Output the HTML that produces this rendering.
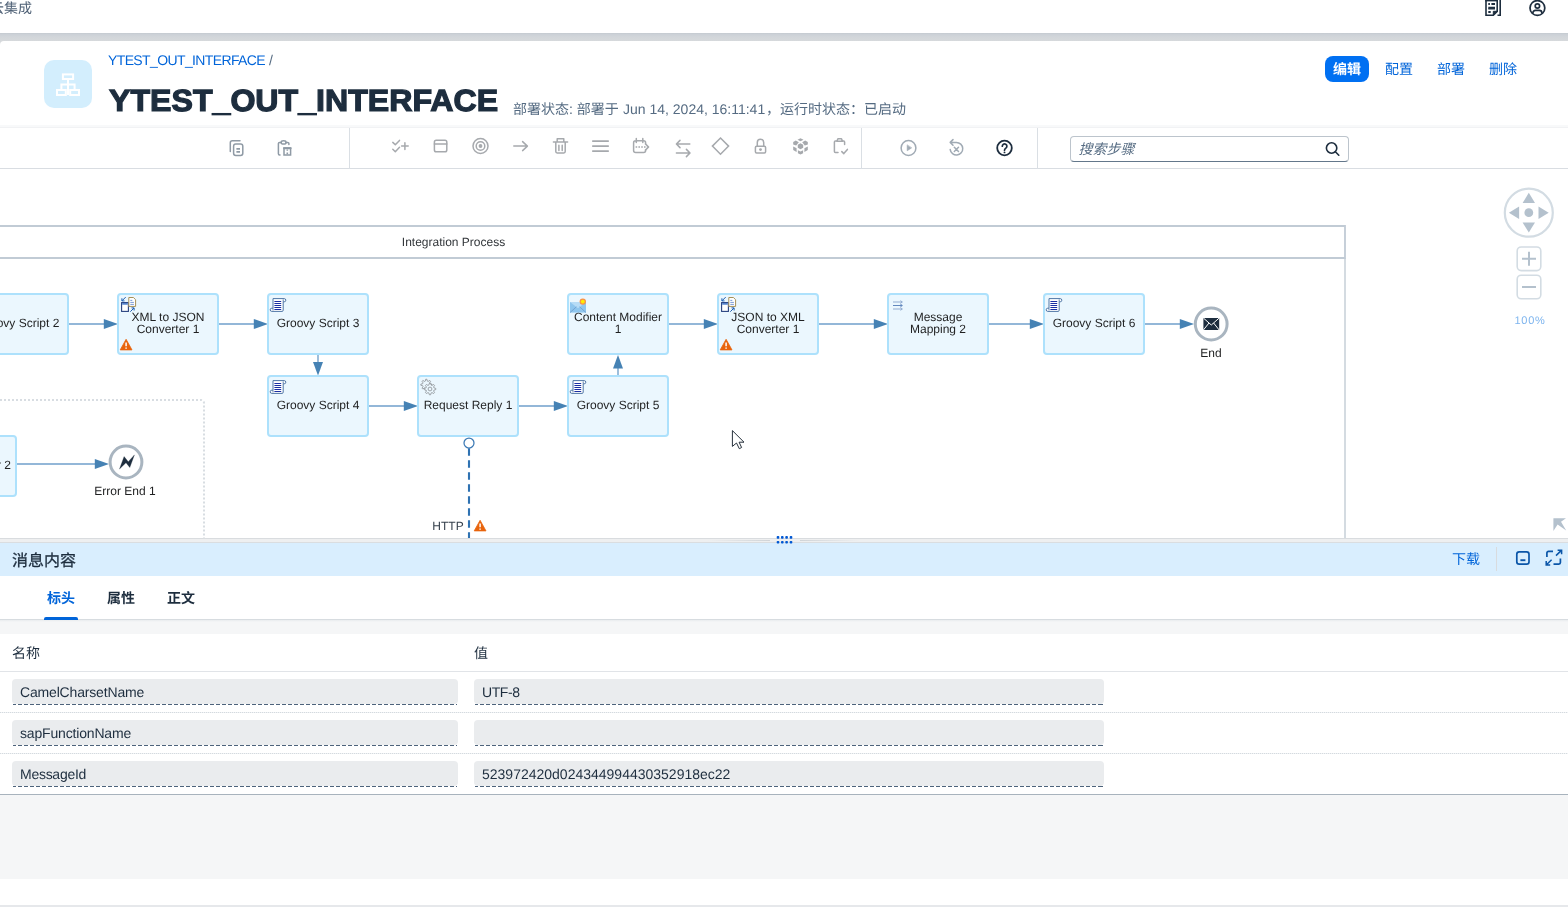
<!DOCTYPE html>
<html lang="zh-CN">
<head>
<meta charset="utf-8">
<title>YTEST_OUT_INTERFACE</title>
<style>
*{box-sizing:border-box;margin:0;padding:0}
html,body{width:1568px;height:907px;overflow:hidden;background:#fff}
body{position:relative;will-change:transform;text-rendering:geometricPrecision;font-family:"Liberation Sans","Noto Sans CJK SC",sans-serif;color:#1d2d3e;font-size:14px}
.abs{position:absolute}
.t{position:absolute;white-space:nowrap;line-height:1}
#shell{left:0;top:0;width:1568px;height:33px;background:#fff;overflow:hidden}
#band{left:0;top:33px;width:1568px;height:12px;background:linear-gradient(#c4cad0 0,#ccd1d7 1.5px,#d2d6da 4px,#d6d9dc 8px)}
#hdr{left:0;top:41px;width:1568px;height:86px;background:#fff;border-top-left-radius:4px}
#tb{left:0;top:127px;width:1568px;height:42px;background:#fff;border-top:1px solid #f1f2f4;border-bottom:1px solid #d9dde2;box-shadow:0 1px 1px #f0f2f4,0 -2px 0 #f8f9fa}
#canvas{left:0;top:169px;width:1568px;height:369px;background:#fff;overflow:hidden}
#split{z-index:3;left:0;top:538px;width:1568px;height:5px;background:#eeeff0;border-top:1px solid #d9dcdf;border-bottom:1px solid #dadde0}
#phdr{left:0;top:543px;width:1568px;height:33px;background:#d9eefe}
#tabs{left:0;top:576px;width:1568px;height:44px;background:#fff;border-bottom:1px solid #d7dce0}
#gap{left:0;top:620px;width:1568px;height:14.5px;background:linear-gradient(#e9ecee,#f5f6f7 2px)}
#tbl{left:0;top:634px;width:1568px;height:161px;background:#fff;border-bottom:1px solid #a8b3bd}
#foot{left:0;top:795px;width:1568px;height:84px;background:#f5f6f7}
#foot2{left:0;top:879px;width:1568px;height:28px;background:#fff;border-bottom:2px solid #e6e8eb}
.lnk{color:#0064d9}
.cj{overflow:visible;font-family:"Liberation Sans","Noto Sans CJK SC",sans-serif}
.lb{position:absolute;font-size:12px;line-height:12px;text-align:center;color:#1f2021;white-space:nowrap}
.inp{position:absolute;height:24.5px;background:#eaecee;border-radius:4px;font-size:14px;line-height:26px;padding-left:8px;color:#1d2d3e;white-space:nowrap;letter-spacing:-.17px}
.inp::after{content:"";position:absolute;left:1px;right:1px;bottom:-1.2px;height:1.1px;background:repeating-linear-gradient(90deg,#4d637b 0 4px,transparent 4px 6px);background-position:-1px 0}
.rowl{position:absolute;left:0;width:1568px;height:1px;background:repeating-linear-gradient(90deg,#d4dadf 0 1px,#f0f2f4 1px 2px)}
</style>
</head>
<body>

<div id="shell" class="abs">
<span class="t cj" style="left:-10px;top:1px;font-size:14px;width:42.0px;height:14px;color:#4f6176">云集成</span>
<svg class="abs" style="left:1485px;top:0" width="17" height="17" viewBox="0 0 17 17" fill="none" stroke="#1d2d3e"><path d="M1 -1V15.2H8.3L12.2 11.3V-1" stroke-width="1.6"/><path d="M8.3 15.2V11.3H12.2Z" fill="#1d2d3e" stroke-width="1"/><path d="M12.5 15.2H15.2V-1" stroke-width="1.6"/><path d="M.2 .4H13" stroke-width="2"/><path d="M3.3 4h1.6M6.4 4h3.6M3.3 7.7h6.7M3.3 12h2.4" stroke-width="1.9"/><path d="M3.3 8.8h6.7" stroke-width="1.4"/></svg>
<svg class="abs" style="left:1529px;top:-1px" width="18" height="18" viewBox="0 0 18 18" fill="none" stroke="#1d2d3e" stroke-width="1.7"><circle cx="8.4" cy="9" r="7.4"/><circle cx="8.4" cy="7" r="2.2"/><path d="M3.9 14.6v-.6a2.6 2.6 0 0 1 2.6-2.6h3.8a2.6 2.6 0 0 1 2.6 2.6v.6"/></svg>
</div>
<div id="band" class="abs"></div>
<div id="hdr" class="abs">
<div class="abs" style="left:44px;top:19px;width:48px;height:48px;border-radius:10px;background:#d3eefd"></div>
<svg class="abs" style="left:56px;top:31px" width="24" height="26" viewBox="0 0 24 26" fill="none" stroke="#fff" stroke-width="2"><rect x="6.9" y="2.4" width="10.2" height="4.6"/><rect x="1" y="18" width="8.8" height="5"/><rect x="14.2" y="18" width="8.8" height="5"/><path d="M12 7V23M5.4 18V12.6H18.6V18"/></svg>
<span class="t lnk" style="left:108px;top:12px;font-size:14px;letter-spacing:-.62px">YTEST_OUT_INTERFACE</span>
<span class="t" style="left:269px;top:12px;font-size:14px;color:#556b82">/</span>
<h1 class="t" style="left:108.5px;top:44.6px;font-size:30.6px;font-weight:700;color:#1d2d3e;-webkit-text-stroke:1.2px #1d2d3e;transform:scaleX(1.05);transform-origin:0 0">YTEST_OUT_INTERFACE</h1>
<span class="t cj" style="left:513px;top:61px;font-size:14px;width:56.0px;height:14px;color:#556b82">部署状态</span><span class="t" style="left:569px;top:61px;font-size:14px;color:#556b82">:</span><span class="t cj" style="left:576.8px;top:61px;font-size:14px;width:42.0px;height:14px;color:#556b82">部署于</span>
<span class="t" style="left:623px;top:61px;font-size:14px;color:#556b82">Jun 14, 2024, 16:11:41</span>
<span class="t cj" style="left:766px;top:61px;font-size:14px;width:140.0px;height:14px;color:#556b82">，运行时状态：已启动</span>
<div class="abs" style="left:1325px;top:15px;width:44px;height:26px;border-radius:8px;background:#0070f2"></div><span class="t cj" style="left:1333px;top:21px;font-size:14px;width:28.0px;height:14px;color:#fff;font-weight:700">编辑</span>
<span class="t cj" style="left:1385px;top:21px;font-size:14px;width:28.0px;height:14px;color:#0064d9">配置</span>
<span class="t cj" style="left:1437px;top:21px;font-size:14px;width:28.0px;height:14px;color:#0064d9">部署</span>
<span class="t cj" style="left:1489px;top:21px;font-size:14px;width:28.0px;height:14px;color:#0064d9">删除</span>
</div>
<div id="tb" class="abs">
<div class="abs" style="left:349px;top:0;width:1px;height:41px;background:#dadfe4"></div>
<div class="abs" style="left:861px;top:0;width:1px;height:41px;background:#dadfe4"></div>
<div class="abs" style="left:1037px;top:0;width:1px;height:41px;background:#dadfe4"></div>
<svg class="abs" style="left:0;top:-1px" width="1060" height="42" viewBox="0 127 1060 42" fill="none" stroke-linecap="round" stroke-linejoin="round">
<g stroke="#8f9aa5" stroke-width="1.5">
<path d="M230.3 151.5V142.8a2 2 0 0 1 2-2H240"/><rect x="233.6" y="144" width="9.2" height="11.4" rx="2.2"/><path d="M236.4 148.8h3.6M236.4 151.9h3.6" stroke-width="1.7" stroke-linecap="butt"/>
<path d="M280 155H279.6a1.2 1.2 0 0 1-1.2-1.2V143.6a1.2 1.2 0 0 1 1.2-1.2H281.2M286 142.4h1.7a1.2 1.2 0 0 1 1.2 1.2V144.6"/><ellipse cx="283.6" cy="142.4" rx="2.5" ry="1.7"/><rect x="284" y="148" width="6.6" height="7" stroke-linejoin="miter"/><path d="M284 148.2h6.6" stroke-width="2"/><path d="M287.3 149.4v1.4M287.3 152.6v1.6" stroke-width="1.6" stroke-linecap="butt"/>
</g>
<g stroke="#a6a9ad" stroke-width="1.5">
<path d="M392.8 142.4l2.5 2.4l4.2-4.4M392.8 149.3l2.5 2.4l4.2-4.4M401.6 146.1h6.6M404.9 142.8v6.6"/>
<rect x="434.4" y="140.2" width="12.4" height="11.6" rx="1.8"/><path d="M434.4 144h12.4"/>
<circle cx="480.5" cy="146" r="7.5"/><circle cx="480.5" cy="146" r="4.3"/><circle cx="480.5" cy="146" r="1.9" fill="#a6a9ad" stroke="none"/>
<path d="M513.8 146.1h13.4M522.6 141.6l4.8 4.5l-4.8 4.5"/>
<path d="M553.4 141.9h14.2M557.2 141.6v-2.8h6.6v2.8M555.8 142.2v9.4a1.3 1.3 0 0 0 1.3 1.3h6.8a1.3 1.3 0 0 0 1.3-1.3v-9.4M558.9 145.2v5.3M562.2 145.2v5.3"/>
<path d="M592.8 141.1h15.4M592.8 146.1h15.4M592.8 151.1h15.4" stroke-width="1.7"/>
<path d="M645.6 143.5v-.7a2 2 0 0 0-2-2h-8a2 2 0 0 0-2 2v7.6a2 2 0 0 0 2 2h8a2 2 0 0 0 2-2v-.4M636.3 138.6v3.8M642.8 138.6v3.8"/><path d="M635.6 147h12.4" stroke-dasharray="1.6 1.2" stroke-linecap="butt"/><path d="M645.4 143.9l3.2 3.1l-3.2 3.1"/>
<path d="M689.8 144h-13M680 140.4l-3.6 3.6l3.6 3.6M676.4 153h13M686.4 149.4l3.6 3.6l-3.6 3.6"/>
<path d="M720.5 138l8.1 8.1l-8.1 8.1l-8.1-8.1z" stroke-linejoin="miter"/>
<rect x="755.4" y="146.3" width="10.2" height="6.6" rx="1.2"/><path d="M757.3 146v-3.6a3.2 3.2 0 0 1 6.4 0V146"/><circle cx="760.5" cy="149.6" r="1.4" fill="#a6a9ad" stroke="none"/>
<g fill="#a6a9ad" stroke="none"><path d="M800.5 138.2l3 1.5l-3 1.5l-3-1.5z"/><path d="M793.2 142l2.6-1.4l3 1.6l-2.6 3.4l-3-1.2z"/><path d="M807.8 142l-2.6-1.4l-3 1.6l2.6 3.4l3-1.2z"/><path d="M800.5 143.3l2.7 1.5v3l-2.7 1.5l-2.7-1.5v-3z"/><path d="M793.2 146.6l3.4 1.7v3.6l-3.4-1.9z"/><path d="M807.8 146.6l-3.4 1.7v3.6l3.4-1.9z"/><path d="M797.9 150.2l2.6 1.3l2.6-1.3v3l-2.6 1.4l-2.6-1.4z"/></g>
<path d="M838 152.6h-2.6a1 1 0 0 1-1-1v-9.6a1 1 0 0 1 1-1h1.8M842 141h1.6a1 1 0 0 1 1 1v2.4"/><path d="M836.9 141.2l1-2.4h3.6l1 2.4z"/><path d="M841.8 151.6l2 2l3.6-4.2"/>
</g>
<g stroke="#a0aab4" stroke-width="1.5">
<circle cx="908.5" cy="148" r="7.4"/><path d="M907.2 145.2v5.6l4.2-2.8z" fill="#a0aab4" stroke-width=".6"/>
<path d="M950.2 149.6a6.3 6.3 0 1 0 6.2-7.2h-6M953 139.6l-2.8 2.8l2.8 2.8M954.3 147.3l4.2 4.2M958.5 147.3l-4.2 4.2"/>
</g>
<g stroke="#1d2d3e" stroke-width="1.8"><circle cx="1004.5" cy="148" r="7.3"/><path d="M1002.3 146.2a2.3 2.3 0 1 1 3.6 1.9c-.9.6-1.4 1.1-1.4 2.1" stroke-width="1.7"/><circle cx="1004.5" cy="152.4" r=".95" fill="#1d2d3e" stroke="none"/></g>
</svg>
<div class="abs" style="left:1069.5px;top:7.5px;width:279px;height:26px;border:1px solid #bcc4cc;border-bottom-color:#63778b;border-radius:4px;background:#fff"></div>
<span class="t cj" style="left:1078.5px;top:13.5px;font-size:14px;width:56.0px;height:14px;color:#556b82;font-style:italic">搜索步骤</span>
<svg class="abs" style="left:1324px;top:12px" width="18" height="18" viewBox="0 0 18 18" fill="none" stroke="#1d2d3e" stroke-width="1.6" stroke-linecap="round"><circle cx="7.6" cy="8" r="5.2"/><path d="M11.4 11.8l3.4 3.4"/></svg>
</div>
<div id="canvas" class="abs">
<svg class="abs" style="left:0;top:0" width="1568" height="369" viewBox="0 169 1568 369" fill="none">
<path d="M1345 258V560" stroke="#d0d7de" stroke-width="1.8"/><path d="M-5 226H1345V258H-5" stroke="#c1cbd5" stroke-width="1.8"/>
<path d="M-4 400H201a3 3 0 0 1 3 3V540" stroke="#d8dde2" stroke-width="2" stroke-dasharray="2 2"/>
<path d="M68 324H106" stroke="#93b7d8" stroke-width="1.8"/><path d="M103.8 319L118 324L103.8 329Z" fill="#4682b4"/>
<path d="M218 324H256" stroke="#93b7d8" stroke-width="1.8"/><path d="M253.8 319L268 324L253.8 329Z" fill="#4682b4"/>
<path d="M368 406H406" stroke="#93b7d8" stroke-width="1.8"/><path d="M403.8 401L418 406L403.8 411Z" fill="#4682b4"/>
<path d="M518 406H556" stroke="#93b7d8" stroke-width="1.8"/><path d="M553.8 401L568 406L553.8 411Z" fill="#4682b4"/>
<path d="M668 324H706" stroke="#93b7d8" stroke-width="1.8"/><path d="M703.8 319L718 324L703.8 329Z" fill="#4682b4"/>
<path d="M818 324H876" stroke="#93b7d8" stroke-width="1.8"/><path d="M873.8 319L888 324L873.8 329Z" fill="#4682b4"/>
<path d="M988 324H1032" stroke="#93b7d8" stroke-width="1.8"/><path d="M1029.8 319L1044 324L1029.8 329Z" fill="#4682b4"/>
<path d="M1144 324H1182" stroke="#93b7d8" stroke-width="1.8"/><path d="M1179.8 319L1194 324L1179.8 329Z" fill="#4682b4"/>
<path d="M16 464H97" stroke="#93b7d8" stroke-width="1.8"/><path d="M94.8 459L109 464L94.8 469Z" fill="#4682b4"/>
<path d="M318 354V363" stroke="#93b7d8" stroke-width="1.8"/><path d="M313 362H323L318 375.5Z" fill="#4682b4"/>
<path d="M618 376V367" stroke="#93b7d8" stroke-width="1.8"/><path d="M613 368.5H623L618 355Z" fill="#4682b4"/>
<rect x="-32" y="294" width="100" height="60" rx="3" fill="#ebf7fe" stroke="#ade1fc" stroke-width="2"/>
<rect x="118" y="294" width="100" height="60" rx="3" fill="#ebf7fe" stroke="#ade1fc" stroke-width="2"/>
<rect x="268" y="294" width="100" height="60" rx="3" fill="#ebf7fe" stroke="#ade1fc" stroke-width="2"/>
<rect x="268" y="376" width="100" height="60" rx="3" fill="#ebf7fe" stroke="#ade1fc" stroke-width="2"/>
<rect x="418" y="376" width="100" height="60" rx="3" fill="#ebf7fe" stroke="#ade1fc" stroke-width="2"/>
<rect x="568" y="376" width="100" height="60" rx="3" fill="#ebf7fe" stroke="#ade1fc" stroke-width="2"/>
<rect x="568" y="294" width="100" height="60" rx="3" fill="#ebf7fe" stroke="#ade1fc" stroke-width="2"/>
<rect x="718" y="294" width="100" height="60" rx="3" fill="#ebf7fe" stroke="#ade1fc" stroke-width="2"/>
<rect x="888" y="294" width="100" height="60" rx="3" fill="#ebf7fe" stroke="#ade1fc" stroke-width="2"/>
<rect x="1044" y="294" width="100" height="60" rx="3" fill="#ebf7fe" stroke="#ade1fc" stroke-width="2"/>
<rect x="-84" y="436" width="100" height="60" rx="3" fill="#ebf7fe" stroke="#ade1fc" stroke-width="2"/>
<g transform="translate(270 298)"><path d="M3 .6H14.2a1.3 1.3 0 0 1 0 3.2H13.2V12.2a1.2 1.2 0 0 1-1.2 1.2H1.8a1.3 1.3 0 0 1 0-3.2H3Z" fill="#fff" stroke="#4f76a6" stroke-width="1"/><path d="M13.2 3.8V1.4M3 10.2V12.4" stroke="#4f76a6" stroke-width=".9" fill="none"/><path d="M4.4 3.5h6.8M4.4 5.5h6.8M4.4 7.5h6.8M4.4 9.5h6.8M4.4 11.5h6.8" stroke="#1a2fa3" stroke-width="1.1"/></g>
<g transform="translate(270 380)"><path d="M3 .6H14.2a1.3 1.3 0 0 1 0 3.2H13.2V12.2a1.2 1.2 0 0 1-1.2 1.2H1.8a1.3 1.3 0 0 1 0-3.2H3Z" fill="#fff" stroke="#4f76a6" stroke-width="1"/><path d="M13.2 3.8V1.4M3 10.2V12.4" stroke="#4f76a6" stroke-width=".9" fill="none"/><path d="M4.4 3.5h6.8M4.4 5.5h6.8M4.4 7.5h6.8M4.4 9.5h6.8M4.4 11.5h6.8" stroke="#1a2fa3" stroke-width="1.1"/></g>
<g transform="translate(570 380)"><path d="M3 .6H14.2a1.3 1.3 0 0 1 0 3.2H13.2V12.2a1.2 1.2 0 0 1-1.2 1.2H1.8a1.3 1.3 0 0 1 0-3.2H3Z" fill="#fff" stroke="#4f76a6" stroke-width="1"/><path d="M13.2 3.8V1.4M3 10.2V12.4" stroke="#4f76a6" stroke-width=".9" fill="none"/><path d="M4.4 3.5h6.8M4.4 5.5h6.8M4.4 7.5h6.8M4.4 9.5h6.8M4.4 11.5h6.8" stroke="#1a2fa3" stroke-width="1.1"/></g>
<g transform="translate(1046 298)"><path d="M3 .6H14.2a1.3 1.3 0 0 1 0 3.2H13.2V12.2a1.2 1.2 0 0 1-1.2 1.2H1.8a1.3 1.3 0 0 1 0-3.2H3Z" fill="#fff" stroke="#4f76a6" stroke-width="1"/><path d="M13.2 3.8V1.4M3 10.2V12.4" stroke="#4f76a6" stroke-width=".9" fill="none"/><path d="M4.4 3.5h6.8M4.4 5.5h6.8M4.4 7.5h6.8M4.4 9.5h6.8M4.4 11.5h6.8" stroke="#1a2fa3" stroke-width="1.1"/></g>
<g transform="translate(121 297)"><path d="M4.7 .1L1.1 3.7M.9 1.3V3.9H3.5" stroke="#1c5db0" stroke-width="1" fill="none"/><rect x=".6" y="5.6" width="6.8" height="8.8" fill="#fff" stroke="#27407f" stroke-width="1.1"/><path d="M1.2 6.9h5.6" stroke="#3c72c4" stroke-width="1.5"/><path d="M7.8 .5h4.6l2.2 2.2V9.4H7.8Z" fill="#fff" stroke="#a58f58" stroke-width="1"/><path d="M9.3 3.4h2M9.3 5.4h3.6M9.3 7.4h3.6" stroke="#6b8fd0" stroke-width=".9"/><path d="M9.3 14.7L12.9 11.1M10.5 10.9H13.1V13.5" stroke="#1c5db0" stroke-width="1" fill="none"/></g>
<g transform="translate(721 297)"><path d="M4.7 .1L1.1 3.7M.9 1.3V3.9H3.5" stroke="#1c5db0" stroke-width="1" fill="none"/><rect x=".6" y="5.6" width="6.8" height="8.8" fill="#fff" stroke="#27407f" stroke-width="1.1"/><path d="M1.2 6.9h5.6" stroke="#3c72c4" stroke-width="1.5"/><path d="M7.8 .5h4.6l2.2 2.2V9.4H7.8Z" fill="#fff" stroke="#a58f58" stroke-width="1"/><path d="M9.3 3.4h2M9.3 5.4h3.6M9.3 7.4h3.6" stroke="#6b8fd0" stroke-width=".9"/><path d="M9.3 14.7L12.9 11.1M10.5 10.9H13.1V13.5" stroke="#1c5db0" stroke-width="1" fill="none"/></g>
<g transform="translate(120 339)"><path d="M6.1 .3L12 10.9H.2Z" fill="#e8640c" stroke="#e8640c" stroke-width=".8" stroke-linejoin="round"/><path d="M6.1 3.4V7.3" stroke="#fff" stroke-width="1.5"/><path d="M6.1 8.4V9.7" stroke="#fff" stroke-width="1.5"/></g>
<g transform="translate(720 339)"><path d="M6.1 .3L12 10.9H.2Z" fill="#e8640c" stroke="#e8640c" stroke-width=".8" stroke-linejoin="round"/><path d="M6.1 3.4V7.3" stroke="#fff" stroke-width="1.5"/><path d="M6.1 8.4V9.7" stroke="#fff" stroke-width="1.5"/></g>
<g transform="translate(474 520)"><path d="M6.1 .3L12 10.9H.2Z" fill="#e8640c" stroke="#e8640c" stroke-width=".8" stroke-linejoin="round"/><path d="M6.1 3.4V7.3" stroke="#fff" stroke-width="1.5"/><path d="M6.1 8.4V9.7" stroke="#fff" stroke-width="1.5"/></g>
<g><path d="M570 302H586V312.6H570Z" fill="#8fc6ee"/><path d="M570 302L578 308.2L586 302Z" fill="#b7dcf6"/><path d="M570 312.6L576.4 306.8M586 312.6L579.6 306.8" stroke="#6f9ccb" stroke-width=".8"/><circle cx="582.8" cy="301.6" r="3.2" fill="#f7924a"/><circle cx="582.8" cy="301.6" r="1.9" fill="#ffee00"/></g>
<g stroke-width="1" fill="none"><path d="M893 302h9M900.4 300.7l2 1.3l-2 1.3M893 309h9M900.4 307.7l2 1.3l-2 1.3" stroke="#93add2"/><path d="M893 305.5h9M900.4 304.2l2 1.3l-2 1.3" stroke="#6288be"/></g>
<g stroke="#85898e" stroke-width=".75" fill="#ebf7fe" stroke-linejoin="round"><path d="M429.86 383.68L431.77 384.13L431.77 385.27L429.86 385.72L429.54 386.49L430.57 388.16L429.76 388.97L428.09 387.94L427.32 388.26L426.87 390.17L425.73 390.17L425.28 388.26L424.51 387.94L422.84 388.97L422.03 388.16L423.06 386.49L422.74 385.72L420.83 385.27L420.83 384.13L422.74 383.68L423.06 382.91L422.03 381.24L422.84 380.43L424.51 381.46L425.28 381.14L425.73 379.23L426.87 379.23L427.32 381.14L428.09 381.46L429.76 380.43L430.57 381.24L429.54 382.91Z"/><path d="M433.94 387.87L435.77 388.39L435.77 389.61L433.94 390.13L433.59 390.99L434.51 392.65L433.65 393.51L431.99 392.59L431.13 392.94L430.61 394.77L429.39 394.77L428.87 392.94L428.01 392.59L426.35 393.51L425.49 392.65L426.41 390.99L426.06 390.13L424.23 389.61L424.23 388.39L426.06 387.87L426.41 387.01L425.49 385.35L426.35 384.49L428.01 385.41L428.87 385.06L429.39 383.23L430.61 383.23L431.13 385.06L431.99 385.41L433.65 384.49L434.51 385.35L433.59 387.01Z"/><circle cx="430" cy="389" r="1.9" stroke-width=".75"/></g>
<circle cx="1211.2" cy="324" r="15.9" fill="#fff" stroke="#a9b5c0" stroke-width="3"/>
<path d="M1203.4 318H1219.2V330H1203.4Z" fill="#1d2d3e"/><path d="M1203.4 318L1211.3 325L1219.2 318M1203.4 330L1209 323M1219.2 330L1213.6 323" stroke="#fff" stroke-width="1"/>
<circle cx="126" cy="462" r="15.9" fill="#fff" stroke="#a9b5c0" stroke-width="3"/>
<path d="M119.5 469L124.1 456.6L128.3 461.7L134.4 454.9L129.8 467.5L126 462.7Z" fill="#1d2d3e" stroke="#1d2d3e" stroke-width=".3" stroke-linejoin="round"/>
<path d="M469 448.2V540" stroke="#2f72b2" stroke-width="2.1" stroke-dasharray="7.5 4.5"/><circle cx="469" cy="443" r="5" fill="#fff" stroke="#3d7ab5" stroke-width="1.25"/>
<circle cx="1528.8" cy="212.7" r="24" stroke="#d3dce3" stroke-width="2.2" fill="#fff"/>
<g fill="#b4c1cd"><circle cx="1528.8" cy="212.7" r="4.4"/><path d="M1528.8 192.8l6.2 10.2h-12.4z"/><path d="M1528.8 232.6l6.2-10.2h-12.4z"/><path d="M1508.9 212.7l10.2-6.2v12.4z"/><path d="M1548.7 212.7l-10.2-6.2v12.4z"/></g>
<rect x="1517.2" y="247" width="23.6" height="23.6" rx="4" stroke="#d3dce3" stroke-width="1.6" fill="#fff"/><rect x="1517.2" y="275.2" width="23.6" height="23.6" rx="4" stroke="#d3dce3" stroke-width="1.6" fill="#fff"/>
<path d="M1522 258.8h14M1529 251.8v14M1522 287h14" stroke="#b4c1cd" stroke-width="2"/>
<path d="M1553.4 518.2H1566L1561 521.8L1566.2 530.6L1557.6 524.4L1553.4 531Z" fill="#b4c1cd"/>
<path d="M732.4 430.6V446.4L736.5 443L739.3 448.7L741.6 447.5L739.1 442.2H744Z" fill="#fff" stroke="#1b2631" stroke-width=".95" stroke-linejoin="round"/>
</svg>
<div class="lb" style="left:373.5px;top:66.5px;width:160px;color:#32363a">Integration Process</div>
<div class="lb" style="left:-37.0px;top:147.5px;width:110px">Groovy Script 2</div>
<div class="lb" style="left:113.0px;top:142.0px;width:110px">XML to JSON<br>Converter 1</div>
<div class="lb" style="left:263.0px;top:147.5px;width:110px">Groovy Script 3</div>
<div class="lb" style="left:263.0px;top:229.5px;width:110px">Groovy Script 4</div>
<div class="lb" style="left:413.0px;top:229.5px;width:110px">Request Reply 1</div>
<div class="lb" style="left:563.0px;top:229.5px;width:110px">Groovy Script 5</div>
<div class="lb" style="left:563.0px;top:142.0px;width:110px">Content Modifier<br>1</div>
<div class="lb" style="left:713.0px;top:142.0px;width:110px">JSON to XML<br>Converter 1</div>
<div class="lb" style="left:883.0px;top:142.0px;width:110px">Message<br>Mapping 2</div>
<div class="lb" style="left:1039.0px;top:147.5px;width:110px">Groovy Script 6</div>
<div class="lb" style="left:1156.0px;top:178.0px;width:110px">End</div>
<div class="lb" style="left:70.0px;top:316.0px;width:110px">Error End 1</div>
<div class="lb" style="left:-93.0px;top:289.5px;width:110px">Content Modifier 2</div>
<div class="lb" style="left:418.0px;top:350.70000000000005px;width:60px;color:#36414d">HTTP</div>
<span class="t" style="left:1514.5px;top:147px;font-size:11px;color:#7db4ee;letter-spacing:.7px">100%</span>
</div>
<div id="split" class="abs">
<div class="abs" style="left:708px;top:1px;width:62px;height:1px;background:linear-gradient(90deg,rgba(208,212,216,0),#d0d4d8)"></div>
<div class="abs" style="left:800px;top:1px;width:60px;height:1px;background:linear-gradient(90deg,#d0d4d8,rgba(208,212,216,0))"></div>
<svg class="abs" style="left:776px;top:-4px" width="18" height="10" viewBox="0 0 18 10" fill="#0058d3"><rect x="0.7" y="1.1" width="2.6" height="2.6" rx=".8"/><rect x="5.0" y="1.1" width="2.6" height="2.6" rx=".8"/><rect x="9.3" y="1.1" width="2.6" height="2.6" rx=".8"/><rect x="13.7" y="1.1" width="2.6" height="2.6" rx=".8"/><rect x="0.7" y="6.0" width="2.6" height="2.6" rx=".8"/><rect x="5.0" y="6.0" width="2.6" height="2.6" rx=".8"/><rect x="9.3" y="6.0" width="2.6" height="2.6" rx=".8"/><rect x="13.7" y="6.0" width="2.6" height="2.6" rx=".8"/></svg>
</div>
<div id="phdr" class="abs">
<span class="t cj" style="left:12px;top:10.5px;font-size:16px;width:64.0px;height:16px;color:#1d2d3e;-webkit-text-stroke:.3px #1d2d3e">消息内容</span>
<span class="t cj" style="left:1452px;top:9px;font-size:14px;width:28.0px;height:14px;color:#0064d9">下载</span>
<div class="abs" style="left:1496px;top:4px;width:1px;height:24px;background:#d9dbde"></div>
<svg class="abs" style="left:1514px;top:6px" width="18" height="18" viewBox="0 0 18 18" fill="none" stroke="#0a55a8" stroke-width="1.7"><rect x="2.8" y="2.9" width="12.2" height="12.2" rx="2.4"/><path d="M6.4 11.2h5" stroke-width="1.9"/></svg>
<svg class="abs" style="left:1545px;top:6px" width="19" height="18" viewBox="0 0 19 18" fill="none" stroke="#0a55a8" stroke-width="1.7"><path d="M1.9 8V4a1.6 1.6 0 0 1 1.6-1.6H8M8.5 15.2h5.3a1.6 1.6 0 0 0 1.6-1.6V9.5"/><path d="M11 6.6l5.4-5.2M12.6 1.2h4v4" stroke-width="1.5"/><path d="M6.6 10.8l-5.2 5M1.2 12v4h4" stroke-width="1.5"/></svg>
</div>
<div id="tabs" class="abs">
<span class="t cj" style="left:47px;top:15px;font-size:14px;width:28.0px;height:14px;color:#0064d9;font-weight:700">标头</span>
<span class="t cj" style="left:107px;top:15px;font-size:14px;width:28.0px;height:14px;color:#1d2d3e;font-weight:700">属性</span>
<span class="t cj" style="left:167px;top:15px;font-size:14px;width:28.0px;height:14px;color:#1d2d3e;font-weight:700">正文</span>
<div class="abs" style="left:44px;top:41px;width:34px;height:3px;background:#0064d9;border-radius:2px 2px 0 0"></div>
</div>
<div id="gap" class="abs"></div>
<div id="tbl" class="abs">
<span class="t cj" style="left:12px;top:12px;font-size:14px;width:28.0px;height:14px;color:#1d2d3e">名称</span>
<span class="t cj" style="left:474px;top:12px;font-size:14px;width:14.0px;height:14px;color:#1d2d3e">值</span>
<div class="rowl" style="top:36.5px;background:#e1e4e8"></div>
<div class="rowl" style="top:78px"></div>
<div class="rowl" style="top:119px"></div>
<div class="inp" style="left:12px;top:45px;width:446px">CamelCharsetName</div>
<div class="inp" style="left:474px;top:45px;width:630px;letter-spacing:-.4px">UTF-8</div>
<div class="inp" style="left:12px;top:86px;width:446px">sapFunctionName</div>
<div class="inp" style="left:474px;top:86px;width:630px"></div>
<div class="inp" style="left:12px;top:127px;width:446px;letter-spacing:-.27px">MessageId</div>
<div class="inp" style="left:474px;top:127px;width:630px;letter-spacing:0">523972420d024344994430352918ec22</div>
</div>
<div id="foot" class="abs"></div>
<div id="foot2" class="abs"></div>
</body>
</html>
